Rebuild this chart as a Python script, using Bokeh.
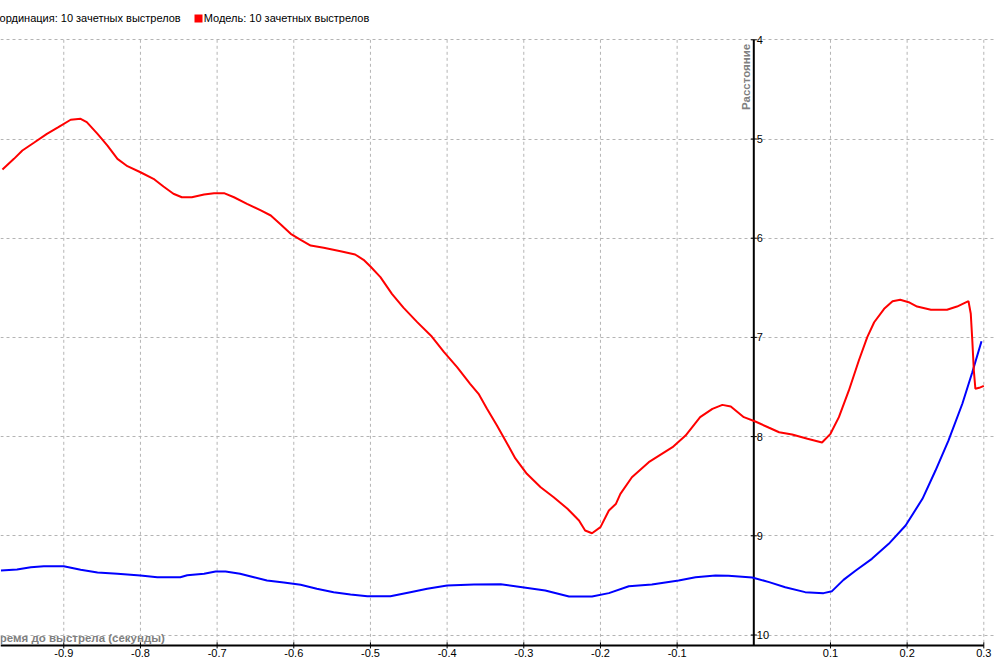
import math
from bokeh.plotting import figure
from bokeh.models import Range1d, Grid, FixedTicker, Legend, LegendItem, ColumnDataSource
from bokeh.core.properties import value
from bokeh.embed import file_html
from bokeh.resources import INLINE

# ---------------- data ----------------
x_ticks = [-0.9, -0.8, -0.7, -0.6, -0.5, -0.4, -0.3, -0.2, -0.1, 0.1, 0.2, 0.3]
x_tick_labels = ["-0.9", "-0.8", "-0.7", "-0.6", "-0.5", "-0.4", "-0.3", "-0.2", "-0.1", "0.1", "0.2", "0.3"]
y_ticks = [4, 5, 6, 7, 8, 9, 10]
y_tick_labels = ["4", "5", "6", "7", "8", "9", "10"]

model_name = "Модель: 10 зачетных выстрелов"
coord_name = "Координация: 10 зачетных выстрелов"
x_title = "Время до выстрела (секунды)"
y_title = "Расстояние"

model_x = [-0.980, -0.965, -0.954, -0.939, -0.922, -0.907, -0.891, -0.878, -0.870, -0.856,
           -0.843, -0.830, -0.817, -0.800, -0.783, -0.770, -0.757, -0.746, -0.733, -0.717,
           -0.704, -0.691, -0.678, -0.661, -0.643, -0.630, -0.617, -0.604, -0.591, -0.578,
           -0.561, -0.539, -0.520, -0.509, -0.500, -0.487, -0.472, -0.457, -0.439, -0.420,
           -0.404, -0.387, -0.370, -0.359, -0.348, -0.335, -0.324, -0.311, -0.296, -0.278,
           -0.261, -0.243, -0.228, -0.220, -0.211, -0.200, -0.189, -0.180, -0.174, -0.159,
           -0.137, -0.106, -0.089, -0.070, -0.054, -0.041, -0.030, -0.013, 0.002, 0.020,
           0.033, 0.050, 0.070, 0.089, 0.100, 0.111, 0.124, 0.137, 0.148, 0.157,
           0.170, 0.181, 0.191, 0.202, 0.213, 0.231, 0.252, 0.265, 0.280, 0.283,
           0.285, 0.287, 0.289, 0.294, 0.300]
model_y = [5.307, 5.200, 5.116, 5.038, 4.948, 4.881, 4.806, 4.797, 4.830, 4.948,
           5.066, 5.200, 5.274, 5.335, 5.401, 5.479, 5.552, 5.587, 5.587, 5.560,
           5.546, 5.546, 5.587, 5.653, 5.720, 5.771, 5.862, 5.956, 6.016, 6.074,
           6.097, 6.131, 6.164, 6.218, 6.285, 6.393, 6.561, 6.700, 6.846, 6.991,
           7.149, 7.300, 7.468, 7.569, 7.720, 7.888, 8.039, 8.220, 8.375, 8.510,
           8.611, 8.728, 8.846, 8.947, 8.974, 8.913, 8.745, 8.680, 8.577, 8.410,
           8.258, 8.107, 7.989, 7.804, 7.720, 7.680, 7.697, 7.804, 7.848, 7.911,
           7.956, 7.979, 8.022, 8.059, 7.972, 7.804, 7.535, 7.233, 6.998, 6.847,
           6.712, 6.635, 6.621, 6.645, 6.689, 6.722, 6.722, 6.689, 6.635, 6.762,
           7.031, 7.334, 7.518, 7.508, 7.488]

coord_x = [-0.982, -0.961, -0.943, -0.926, -0.900, -0.878, -0.856, -0.830, -0.800, -0.778,
           -0.748, -0.739, -0.717, -0.702, -0.689, -0.670, -0.652, -0.635, -0.613, -0.591,
           -0.570, -0.548, -0.526, -0.504, -0.474, -0.448, -0.426, -0.400, -0.365, -0.330,
           -0.302, -0.272, -0.241, -0.211, -0.189, -0.163, -0.133, -0.098, -0.076, -0.050,
           -0.033, -0.002, 0.020, 0.041, 0.067, 0.091, 0.102, 0.117, 0.133, 0.154,
           0.176, 0.198, 0.220, 0.237, 0.254, 0.272, 0.285, 0.297]
coord_y = [9.350, 9.340, 9.317, 9.307, 9.307, 9.343, 9.370, 9.383, 9.400, 9.417,
           9.417, 9.397, 9.383, 9.360, 9.360, 9.383, 9.417, 9.450, 9.471, 9.494,
           9.534, 9.568, 9.592, 9.609, 9.609, 9.568, 9.534, 9.500, 9.491, 9.488,
           9.518, 9.551, 9.612, 9.612, 9.578, 9.508, 9.491, 9.451, 9.417, 9.400,
           9.403, 9.420, 9.467, 9.518, 9.568, 9.578, 9.558, 9.444, 9.350, 9.232,
           9.081, 8.896, 8.627, 8.342, 8.039, 7.669, 7.351, 7.038]

# ---------------- layout constants ----------------
W, H = 995, 666
X_START, X_END = -0.98253, 0.31525
Y_BOTTOM, Y_TOP = 10.3175, 3.60383
XAXIS_Y = 10.105
FONT = "Liberation Sans"
GRID_COLOR = "#b4b4b4"

p = figure(width=W, height=H, output_backend="svg", toolbar_location=None,
           x_range=Range1d(X_START, X_END), y_range=Range1d(Y_BOTTOM, Y_TOP),
           x_axis_type=None, y_axis_type=None, min_border=0,
           outline_line_color=None, background_fill_color="white",
           border_fill_color="white")

# horizontal grid (full width)
p.add_layout(Grid(dimension=1, ticker=FixedTicker(ticks=y_ticks),
                  grid_line_color=GRID_COLOR, grid_line_dash="3 3", grid_line_width=1))

# vertical grid lines from top tick down to x axis
p.segment(x0=x_ticks, y0=[y_ticks[0]] * len(x_ticks), x1=x_ticks,
          y1=[XAXIS_Y] * len(x_ticks), line_color=GRID_COLOR, line_dash="3 3", line_width=1)

# axis lines
p.segment(x0=[X_START], y0=[XAXIS_Y], x1=[x_ticks[-1]], y1=[XAXIS_Y], line_color="black", line_width=2)
p.segment(x0=[0], y0=[y_ticks[0]], x1=[0], y1=[XAXIS_Y], line_color="black", line_width=2)

# tick marks
p.scatter(x=x_ticks, y=[XAXIS_Y] * len(x_ticks), marker="dash", size=6, angle=math.pi / 2,
          line_color="black", line_width=1)
p.scatter(x=[0] * len(y_ticks), y=y_ticks, marker="dash", size=6, line_color="black", line_width=1)

# tick labels
p.text(x=x_ticks, y=[XAXIS_Y] * len(x_ticks), text=x_tick_labels, text_align="center",
       text_baseline="top", y_offset=4, text_font=value(FONT), text_font_size="11px",
       text_color="black")
p.text(x=[0] * len(y_ticks), y=y_ticks, text=y_tick_labels, text_align="left",
       text_baseline="middle", x_offset=3, text_font=value(FONT), text_font_size="11px",
       text_color="black")

# axis titles
p.text(x=[X_START], y=[XAXIS_Y], text=[x_title], text_align="left", text_baseline="bottom",
       x_offset=-9, y_offset=-1, text_font=value(FONT), text_font_size="11.5px",
       text_font_style="bold", text_color="#808080")
p.text(x=[0], y=[y_ticks[0]], text=[y_title], angle=math.pi / 2, text_align="right",
       text_baseline="bottom", x_offset=-2, y_offset=4, text_font=value(FONT),
       text_font_size="11.5px", text_font_style="bold", text_color="#808080")

# data lines
coord_r = p.line(coord_x, coord_y, line_color="#0000ff", line_width=2)
model_r = p.line(model_x, model_y, line_color="#ff0000", line_width=2)

# legend (square swatches; placeholder rows are NaN so nothing is drawn in the plot)
nan = float("nan")
placeholder = dict(left=[nan], right=[nan], top=[nan], bottom=[nan])
sw_coord = p.quad(source=ColumnDataSource(placeholder), left="left", right="right", top="top",
                  bottom="bottom", fill_color="#0000ff", line_color=None)
sw_model = p.quad(source=ColumnDataSource(dict(placeholder)), left="left", right="right", top="top",
                  bottom="bottom", fill_color="#ff0000", line_color=None)
legend = Legend(items=[LegendItem(label=coord_name, renderers=[sw_coord]),
                       LegendItem(label=model_name, renderers=[sw_model])],
                orientation="horizontal", location=(-24, 642), padding=0, margin=0,
                spacing=12, glyph_width=10, glyph_height=10, label_standoff=1,
                label_height=10, label_text_font=FONT, label_text_font_size="11px",
                label_text_color="black", border_line_color=None, background_fill_alpha=0)
p.add_layout(legend)

open("out.html", "w").write(file_html(p, INLINE))
